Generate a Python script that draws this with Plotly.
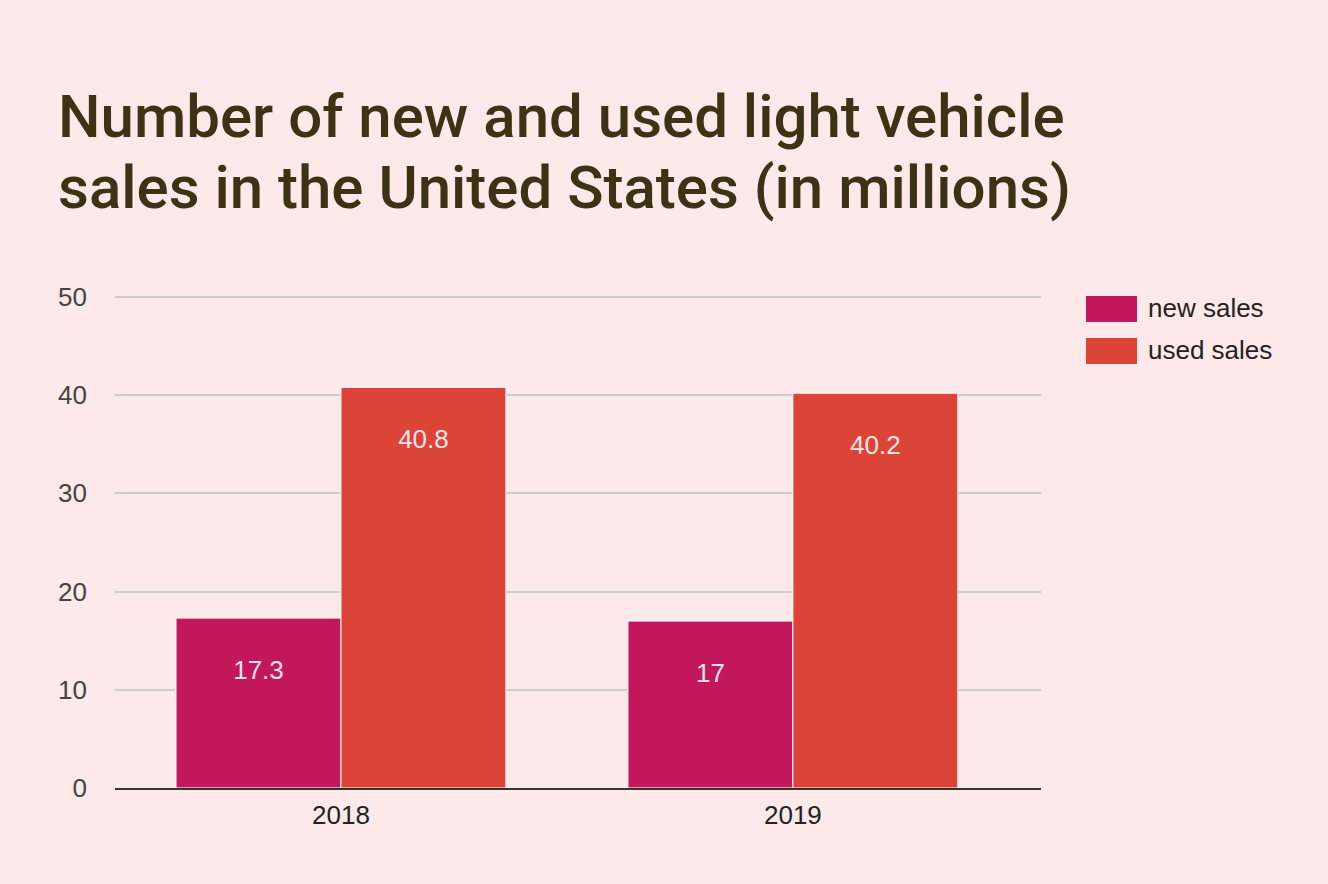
import plotly.graph_objects as go

years = ["2018", "2019"]
series_names = ["new sales", "used sales"]
new_sales = [17.3, 17]
used_sales = [40.8, 40.2]
series_colors = ["#c2185b", "#db4437"]
title_lines = ["Number of new and used light vehicle",
               "sales in the United States (in millions)"]
y_ticks = [0, 10, 20, 30, 40, 50]

W, H = 1328, 884
L, R, T, B = 115, 287, 294, 96
pw, ph = W - L - R, H - T - B


def px_x(x):
    return (x - L) / pw


def px_y(y):
    return (H - B - y) / ph


fig = go.Figure()
for name, vals, col in zip(series_names, [new_sales, used_sales], series_colors):
    fig.add_trace(go.Bar(
        x=years, y=vals, name=name,
        marker=dict(color=col, line=dict(color="white", width=1)),
        text=["\u00a0<br>" + f"{v:g}" for v in vals],
        textposition="inside", insidetextanchor="end",
        textfont=dict(family="Liberation Sans, Arial", size=26, color="#fde4ea"),
        showlegend=False,
    ))

# hand-made legend with big swatches like the original
for i, (name, col) in enumerate(zip(series_names, series_colors)):
    top = 296 + i * 42
    fig.add_shape(type="rect", xref="paper", yref="paper",
                  x0=px_x(1086), x1=px_x(1137), y0=px_y(top), y1=px_y(top + 26),
                  fillcolor=col, line_width=0)
    fig.add_annotation(text=name, xref="paper", yref="paper",
                       x=px_x(1146), y=px_y(top + 12), xanchor="left", yanchor="middle",
                       showarrow=False,
                       font=dict(family="Liberation Sans, Arial", size=26, color="#222222"))

for i, line in enumerate(title_lines):
    fig.add_annotation(text=line, xref="paper", yref="paper",
                       x=px_x(56), y=px_y(116 + i * 71), xanchor="left", yanchor="middle",
                       showarrow=False,
                       font=dict(family="Roboto", size=60, color="#3d3314", weight=500))

fig.update_layout(
    width=W, height=H,
    margin=dict(l=L, r=R, t=T, b=B),
    paper_bgcolor="#fde9e9", plot_bgcolor="#fde9e9",
    barmode="group", bargap=0.27, bargroupgap=0,
    font=dict(family="Liberation Sans, Arial", size=26, color="#444444"),
)
fig.update_xaxes(range=[-0.5, 1.549], showgrid=False, showline=True, linecolor="#333333",
                 linewidth=1.5, ticks="", tickfont=dict(color="#222222", size=26),
                 ticklabelstandoff=3)
fig.update_yaxes(range=[0, 50.3], tickvals=y_ticks, showgrid=True, gridcolor="#cccccc",
                 gridwidth=1.5, zeroline=False, showline=False, ticks="",
                 tickfont=dict(color="#444444", size=26), ticklabelstandoff=27)

fig.write_html("out.html", config={"displayModeBar": False},
               post_script="document.body.style.margin='0';")
